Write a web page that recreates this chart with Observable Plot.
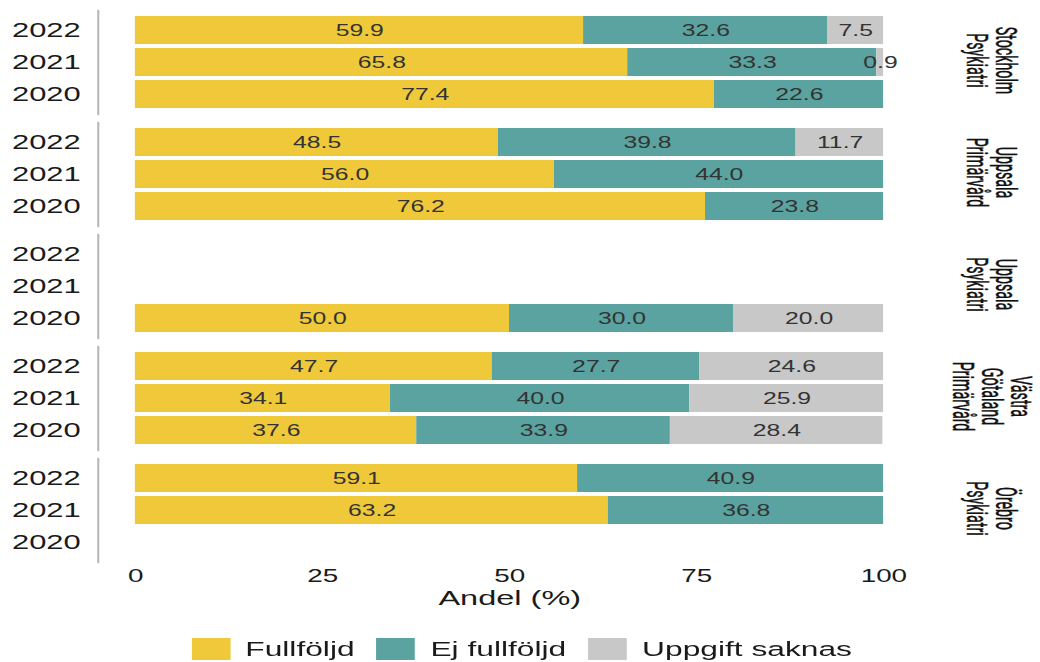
<!DOCTYPE html>
<html>
<head>
<meta charset="utf-8">
<script src="https://cdn.jsdelivr.net/npm/d3@7"></script>
<script src="https://cdn.jsdelivr.net/npm/@observablehq/plot@0.6"></script>
<style>
  html, body { margin: 0; padding: 0; background: #fff; }
  #wrap { width: 672px; transform: scaleX(1.5476); transform-origin: 0 0; }
  .lg-swatches-wrap { justify-content: center; font-size: 20.5px !important; font-family: "Liberation Sans", Arial, sans-serif !important; color: #1a1a1a; margin: 0 !important; min-height: 33px; padding-left: 16px; }
  .lg-swatch { margin-right: 14px !important; }
  .lg-swatch > svg { margin-right: 10px !important; }
</style>
</head>
<body>
<div id="wrap"></div>
<script>
// Categories
const regions = ["Stockholm\nPsykiatri", "Uppsala\nPrimärvård", "Uppsala\nPsykiatri", "Västra\nGötaland\nPrimärvård", "Örebro\nPsykiatri"];
const years = ["2022", "2021", "2020"];
const statuses = ["Fullföljd", "Ej fullföljd", "Uppgift saknas"];
const colors = ["#EFC93A", "#5AA3A0", "#C8C8C8"];
const xTicks = [0, 25, 50, 75, 100];
const xLabel = "Andel (%)";

// Rows (region index, year) and series values (%)
const rowRegion = [0, 0, 0, 1, 1, 1, 2, 3, 3, 3, 4, 4];
const rowYear = ["2022", "2021", "2020", "2022", "2021", "2020", "2020", "2022", "2021", "2020", "2022", "2021"];
const fullfoljd = [59.9, 65.8, 77.4, 48.5, 56.0, 76.2, 50.0, 47.7, 34.1, 37.6, 59.1, 63.2];
const ejFullfoljd = [32.6, 33.3, 22.6, 39.8, 44.0, 23.8, 30.0, 27.7, 40.0, 33.9, 40.9, 36.8];
const saknas = [7.5, 0.9, 0, 11.7, 0, 0, 20.0, 24.6, 25.9, 28.4, 0, 0];

const series = [fullfoljd, ejFullfoljd, saknas];
const data = [];
rowRegion.forEach((r, i) => {
  series.forEach((s, k) => {
    if (s[i] > 0) data.push({region: regions[r], year: rowYear[i], status: statuses[k], value: s[i]});
  });
});

const font = "'Liberation Sans', Arial, sans-serif";
const lastRegion = regions[regions.length - 1];

const chart = Plot.plot({
  width: 672,
  height: 632,
  marginLeft: 63,
  marginRight: 77.2,
  marginTop: 10,
  marginBottom: 70,
  style: {fontFamily: font, background: "#fff", color: "#1a1a1a"},
  x: {domain: [-5, 105]},
  y: {domain: years, paddingInner: 0.125, paddingOuter: 0.1875},
  fy: {domain: regions, paddingInner: 8 / 112, paddingOuter: 0, axis: null},
  color: {domain: statuses, range: colors},
  marks: [
    Plot.frame({anchor: "left", stroke: "#b5b5b5", strokeWidth: 1.3}),
    Plot.barX(data, Plot.stackX({x: "value", y: "year", fy: "region", fill: "status"})),
    Plot.text(data, Plot.stackX({x: "value", y: "year", fy: "region", z: "status",
      text: d => d.value.toFixed(1), fill: "#333", fontSize: 16, fontFamily: font})),
    Plot.axisY({tickSize: 0, tickPadding: 11.3, fontSize: 20, label: null, fill: "#1a1a1a"}),
    Plot.axisX({ticks: xTicks, tickSize: 0, tickPadding: 7, fontSize: 18, label: null, line: true, stroke: "#b5b5b5", strokeWidth: 1.3, fill: "#1a1a1a"}),
    Plot.text([xLabel], {fy: () => lastRegion, x: () => 50, frameAnchor: "bottom", dy: 36, text: d => d, fontSize: 21, fill: "#1a1a1a", lineAnchor: "middle"}),
    Plot.text(regions, {fy: d => d, text: d => d, frameAnchor: "right", textAnchor: "middle", rotate: 90, dx: 45, dy: -2,
      fontSize: 19, fontFamily: "Roboto", lineHeight: 0.98, fill: "#111", stroke: "#111", strokeWidth: 0.35})
  ]
});

// condense facet labels along their reading direction
chart.querySelectorAll("text").forEach(t => {
  const tr = t.getAttribute("transform") || "";
  if (tr.includes("rotate(90)")) t.setAttribute("transform", tr + " scale(0.75,1)");
});

const legend = Plot.legend({
  color: {domain: statuses, range: colors},
  legend: "swatches",
  swatchWidth: 25,
  swatchHeight: 22,
  className: "lg"
});

const wrap = document.getElementById("wrap");
wrap.appendChild(chart);
wrap.appendChild(legend);
</script>
</body>
</html>
